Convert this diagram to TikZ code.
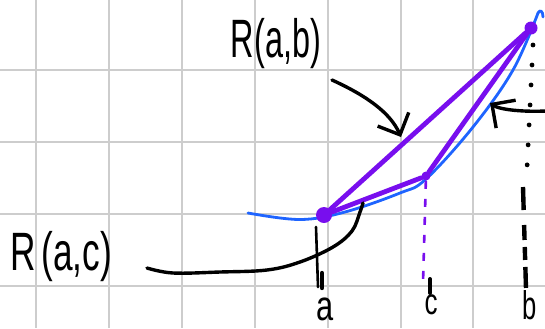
\documentclass[tikz,border=0pt]{standalone}
\usepackage{graphicx,xcolor}
\usepackage{fontspec}
\setmainfont{Liberation Sans}
\usepackage{tikz}
\usetikzlibrary{arrows.meta, positioning}

\definecolor{penpurple}{RGB}{120,14,238}
\definecolor{penblue}{RGB}{30,100,255}
\definecolor{gridgray}{RGB}{205,205,205}

\tikzset{
  gridline/.style={gridgray, line width=1pt},
  fcurve/.style={penblue, line width=1.4pt, line cap=round, line join=round},
  chord/.style={penpurple, line width=2.4pt, line cap=round},
  bigdot/.style={circle, fill=penpurple, inner sep=0, minimum size=#1},
  bigdot/.default=6pt,
  pen/.style={black, line width=1.7pt, line cap=round, line join=round},
  barb/.style={pen, -{Straight Barb[length=8.5pt, width=17pt]}},
  lbl/.style={inner sep=0, font=\fontsize{20}{20}\selectfont},
}

\begin{document}
\begin{tikzpicture}[x=0.5pt, y=-0.5pt]
    \useasboundingbox (0,0) rectangle (545,328);

    % grid paper
    \foreach \gx in {0,...,6}
        \draw[gridline] (36+72.9*\gx,0) -- (36+72.9*\gx,328);
    \foreach \gy in {70,142,214,286}
        \draw[gridline] (0,\gy) -- (545,\gy);

    % the function
    \draw[fcurve] plot[smooth, tension=0.6] coordinates {(248,213) (300,219.5) (345,212) (400,193) (426,179) (473,127) (513,70) (538,13)};
    \draw[fcurve] (538,13) .. controls (540,9) and (543,11) .. (543,17);

    % points a, c, b
    \node[bigdot=8pt] (a) at (324,215) {};
    \node[bigdot=4.5pt] (c) at (426,176) {};
    \node[bigdot=6.5pt] (b) at (531,28) {};

    % secants
    \draw[chord] (a) -- (b);
    \draw[chord] (a) -- (c);
    \draw[chord] (c) -- (b);

    % drop lines
    \coordinate (atop) at (316,227);
    \coordinate (afoot) at (318,287);
    \draw[pen, line width=1.3pt] (atop) -- (afoot);
    \draw[pen, line width=2.2pt] (322,273) -- (322,288);
    \coordinate (cfoot) at (423,283);
    \draw[penpurple, line width=1.3pt, dash pattern=on 4pt off 5pt] (c) -- (cfoot);
    \draw[pen, line width=2pt] (430,279) -- (430,293);
    \draw[pen, line width=2.4pt, dash pattern=on 0pt off 10pt] (533,45) -- (527,168);
    \draw[pen, line width=2.2pt, line cap=butt, dash pattern=on 11.5pt off 7.5pt on 7.5pt off 3.5pt on 6.5pt off 3.5pt on 10.5pt off 20pt] (523,187) -- (526,289);

    % labels
    \node[lbl] (lab) at (276,44) {\scalebox{0.81}[1.35]{R(a,b)}};
    \node[lbl] (lac) at (61,257) {\scalebox{0.88}[1.35]{R\,(a,c)}};
    \node[lbl] (la) at (325,309) {\scalebox{0.77}[1.05]{a}};
    \node[lbl] (lc) at (431,305) {\scalebox{0.65}[0.92]{c}};
    \node[lbl] (lb) at (530,305) {\scalebox{0.64}[1.0]{b}};

    % pointers
    \coordinate (abtail) at (332,80);
    \coordinate (abtip) at (401,137);
    \draw[barb] (abtail) .. controls (365,95) and (390,112) .. (abtip);
    \coordinate (cbtail) at (546,111);
    \coordinate (cbtip) at (490,103);
    \draw[barb] (cbtail) .. controls (525,112) and (500,110) .. (cbtip);
    \draw[pen] plot[smooth, tension=0.6] coordinates {(147,268) (173,273) (220,272) (267,270) (300,262) (333,247) (352,231) (360,212) (363,203)};
\end{tikzpicture}
\end{document}
